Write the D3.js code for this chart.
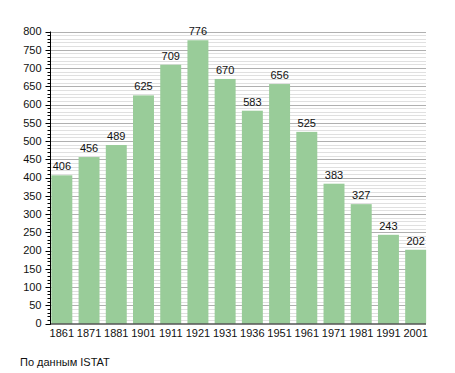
<!DOCTYPE html>
<html><head><meta charset="utf-8">
<script src="https://cdn.jsdelivr.net/npm/d3@7"></script>
<style>body{margin:0;background:#fff;} text{font-family:"Liberation Sans",Arial,sans-serif;}</style>
</head><body>
<svg id="c" width="455" height="373"></svg>
<script>
const years = ["1861","1871","1881","1901","1911","1921","1931","1936","1951","1961","1971","1981","1991","2001"];
const population = [406,456,489,625,709,776,670,583,656,525,383,327,243,202];
const yTicks = [0,50,100,150,200,250,300,350,400,450,500,550,600,650,700,750,800];
const source = "По данным ISTAT";

(function(){
const svg = d3.select("#c");
const pL = 50, pR = 426, pT = 31.5, pB = 323.5;
const x = d3.scaleBand().domain(years).range([pL, pR+1.5]).paddingInner(0.23).paddingOuter(0.05);
const y = d3.scaleLinear().domain([0,800]).range([pB, pT]);

const minor = d3.range(0, 801, 10).filter(v => v % 50 !== 0);
svg.append("g").selectAll("line").data(minor).join("line")
  .attr("x1", pL).attr("x2", pR)
  .attr("y1", d => Math.round(y(d))+0.5).attr("y2", d => Math.round(y(d))+0.5)
  .attr("stroke", "#e0e0e0").attr("stroke-width", 1);
svg.append("g").selectAll("line").data(yTicks.filter(v=>v>0)).join("line")
  .attr("x1", pL).attr("x2", pR)
  .attr("y1", d => Math.round(y(d))+0.5).attr("y2", d => Math.round(y(d))+0.5)
  .attr("stroke", "#b0b0b0").attr("stroke-width", 1);

svg.append("g").selectAll("rect").data(years).join("rect")
  .attr("x", d => x(d)).attr("width", x.bandwidth())
  .attr("y", (d,i) => y(population[i])).attr("height", (d,i) => pB - y(population[i]))
  .attr("fill", "#99cc99");

svg.append("g").selectAll("text").data(years).join("text")
  .attr("x", d => x(d) + x.bandwidth()/2).attr("y", (d,i) => y(population[i]) - 5)
  .attr("text-anchor", "middle").attr("font-size", 11).attr("fill", "#111")
  .text((d,i) => population[i]);

const yAxis = svg.append("g").attr("transform", `translate(${pL+0.5},0)`);
yAxis.append("line").attr("x1",0).attr("x2",0).attr("y1",pT).attr("y2",pB+1).attr("stroke","#000");
yAxis.selectAll("line.mn").data(d3.range(0,801,10)).join("line").attr("class","mn")
  .attr("x1", d => d%50===0 ? -5 : -3).attr("x2", 0)
  .attr("y1", d => Math.round(y(d))+0.5).attr("y2", d => Math.round(y(d))+0.5).attr("stroke","#000");
yAxis.selectAll("text").data(yTicks).join("text")
  .attr("x", -9).attr("y", d => y(d)).attr("dy","0.35em").attr("text-anchor","end")
  .attr("font-size", 11).attr("fill","#111").text(d => d);

svg.append("line").attr("x1", pL).attr("x2", pR).attr("y1", pB+0.5).attr("y2", pB+0.5).attr("stroke","#000");
svg.append("g").selectAll("text").data(years).join("text")
  .attr("x", d => x(d) + x.bandwidth()/2).attr("y", pB + 13)
  .attr("text-anchor","middle").attr("font-size", 11).attr("fill","#111").text(d => d);

svg.append("text").attr("x", 20).attr("y", 366).attr("font-size", 11).attr("fill","#111").text(source);
})();
</script>
</body></html>
